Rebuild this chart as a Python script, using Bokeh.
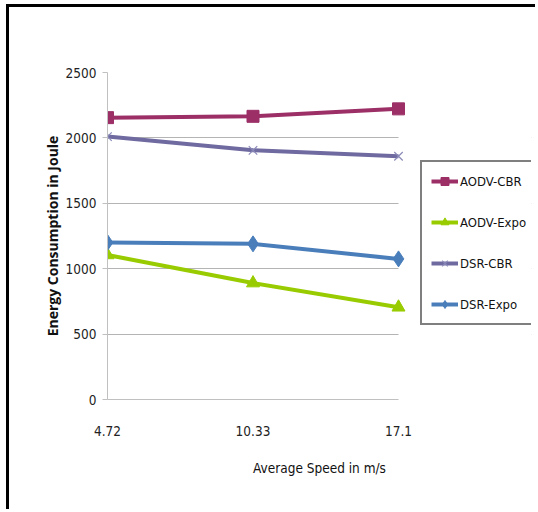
from bokeh.plotting import figure
from bokeh.models import Range1d, Legend, LegendItem, FixedTicker, BoxAnnotation
from bokeh.embed import file_html
from bokeh.resources import INLINE

speeds = ["4.72", "10.33", "17.1"]
x_pos = [0, 1, 2]
aodv_cbr = [2155, 2165, 2222]
aodv_expo = [1105, 890, 705]
dsr_cbr = [2010, 1905, 1860]
dsr_expo = [1200, 1190, 1075]
y_ticks = [0, 500, 1000, 1500, 2000, 2500]

NARROW = "'DejaVu Sans Condensed', Lato"

# frame spans data area (x 0..2) plus a blank strip on the right for the legend
X_END = 2 * 424 / 291

p = figure(width=529, height=505, output_backend="svg", toolbar_location=None,
           x_range=Range1d(0, X_END), y_range=Range1d(0, 2500),
           min_border_left=98, min_border_right=7, min_border_top=65, min_border_bottom=113)
p.margin = (4, 0, 0, 6)
p.styles = {"border-top": "3px solid black", "border-left": "3px solid black"}
p.outline_line_color = None
p.background_fill_color = "white"
p.border_fill_color = "white"

p.xgrid.visible = False
p.ygrid.grid_line_color = "#b4b4b4"
p.ygrid.grid_line_width = 1
p.yaxis.ticker = FixedTicker(ticks=y_ticks)
p.xaxis.ticker = FixedTicker(ticks=x_pos)
p.xaxis.bounds = (0, 2)
p.xaxis.major_label_overrides = {i: s for i, s in zip(x_pos, speeds)}

# blank out the grid to the right of the last category
p.add_layout(BoxAnnotation(left=2, fill_color="white", fill_alpha=1, line_color=None, level="underlay"))

for ax in (p.xaxis, p.yaxis):
    ax.axis_line_color = "#c0c0c0"
    ax.major_tick_line_color = "#c0c0c0"
    ax.minor_tick_line_color = None
    ax.major_tick_in = 0
    ax.major_label_text_font = NARROW
    ax.major_label_text_font_size = "13.5px"
    ax.major_label_text_color = "#222222"
    ax.axis_label_text_font_style = "normal"
    ax.axis_label_text_color = "#111111"

p.xaxis.major_tick_out = 0
p.xaxis.major_label_standoff = 26
p.xaxis.axis_label = "Average Speed in m/s"
p.xaxis.axis_label_text_font = NARROW
p.xaxis.axis_label_text_font_size = "13.5px"
p.xaxis.axis_label_standoff = 21

p.yaxis.major_tick_out = 5
p.yaxis.major_label_standoff = 6
p.yaxis.axis_label = "Energy Consumption in Joule"
p.yaxis.axis_label_text_font = "Open Sans"
p.yaxis.axis_label_text_font_style = "bold"
p.yaxis.axis_label_text_font_size = "14px"
p.yaxis.axis_label_standoff = 1

series = [
    ("AODV-CBR", aodv_cbr, "#9B2F66", "square", 12),
    ("AODV-Expo", aodv_expo, "#99CC00", "triangle", 13),
    ("DSR-CBR", dsr_cbr, "#6F6AA0", "x", 12),
    ("DSR-Expo", dsr_expo, "#4A7EBB", "diamond", 16),
]
items = []
for name, ys, col, mk, sz in series:
    r1 = p.line(x_pos, ys, line_color=col, line_width=4)
    if mk == "x":
        r2 = p.scatter(x_pos, ys, marker=mk, size=sz, line_color="#8a8ab8", line_width=1.2)
    else:
        r2 = p.scatter(x_pos, ys, marker=mk, size=sz, fill_color=col, line_color=col)
    items.append(LegendItem(label=name, renderers=[r1, r2]))

legend = Legend(items=items, location=(313, 74))
legend.border_line_color = "black"
legend.border_line_width = 2
legend.background_fill_color = "white"
legend.background_fill_alpha = 1
legend.label_text_font = NARROW
legend.label_text_font_size = "13px"
legend.label_text_color = "#111111"
legend.glyph_width = 27
legend.glyph_height = 20
legend.label_standoff = 2
legend.spacing = 21
legend.padding = 9
legend.margin = 0
p.add_layout(legend, "center")

open("out.html", "w").write(file_html(p, INLINE))
